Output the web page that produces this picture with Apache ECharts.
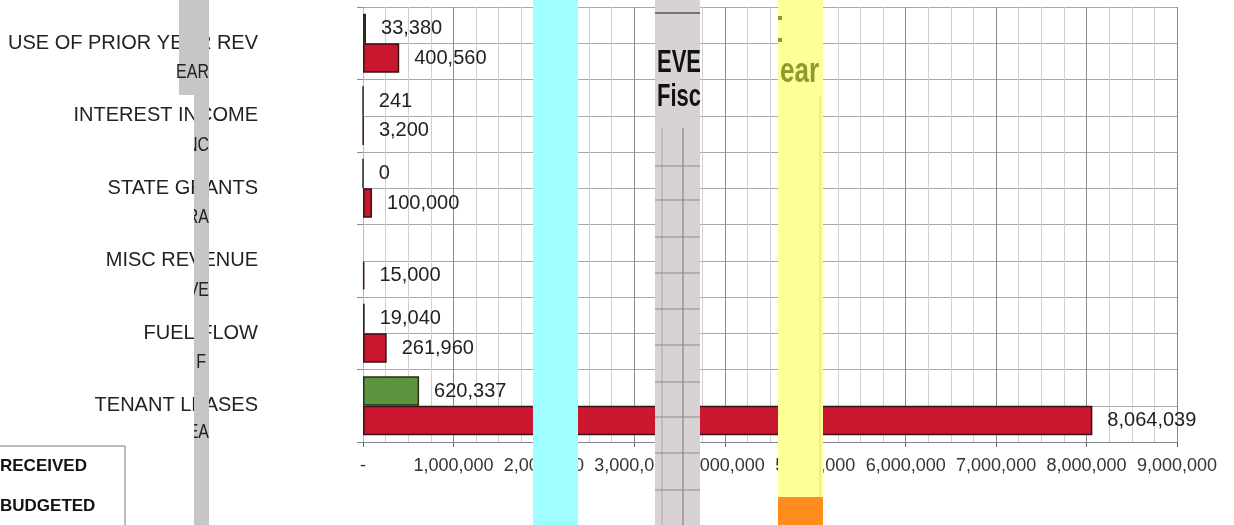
<!DOCTYPE html>
<html>
<head>
<meta charset="utf-8">
<script src="https://cdn.jsdelivr.net/npm/echarts@6/dist/echarts.min.js"></script>
<style>
html,body{margin:0;padding:0;background:#fff;}
#c{width:1234px;height:525px;}
</style>
</head>
<body>
<div id="c"></div>
<script>
// ---- data ----
const categories = ['USE OF PRIOR YEAR REV', 'INTEREST INCOME', 'STATE GRANTS', 'MISC REVENUE', 'FUEL FLOW', 'TENANT LEASES'];
const received = [33380, 241, 0, null, 19040, 620337];
const budgeted = [400560, 3200, 100000, 15000, 261960, 8064039];
const seriesNames = ['RECEIVED', 'BUDGETED'];
const xTicks = [0, 1000000, 2000000, 3000000, 4000000, 5000000, 6000000, 7000000, 8000000, 9000000];

const fmt = v => v === 0 ? '-' : Number(v).toLocaleString('en-US');
const FONT = 'Liberation Sans, Arial, sans-serif';

const chart = echarts.init(document.getElementById('c'), null, {renderer: 'canvas'});

const halfBands = [];
categories.forEach(c => { halfBands.push(c + 'a'); halfBands.push(c + 'b'); });

// decorative scan stripes
const G = [];
G.push({type:'rect', shape:{x:179,y:0,width:30,height:95}, style:{fill:'#c6c6c6'}, z:100});
G.push({type:'rect', shape:{x:194,y:95,width:15,height:430}, style:{fill:'#c6c6c6'}, z:100});
const frag = [['EAR',72,209],['NC',145,209],['RA',217,209],['VE',290,209],['F',362,206],['EA',432,209]];
frag.forEach(f => G.push({type:'text', x:f[2], y:f[1], scaleY:1.3, style:{text:f[0], fill:'#222', font:'16px ' + FONT, textAlign:'right', textVerticalAlign:'middle'}, z:101}));
[145,217,290,362,432].forEach(y => G.push({type:'rect', shape:{x:170,y:y-12,width:24,height:24}, style:{fill:'#fff'}, z:102}));

G.push({type:'rect', shape:{x:533,y:0,width:45,height:525}, style:{fill:'#9ffeff'}, z:100});

G.push({type:'rect', shape:{x:655,y:0,width:45,height:525}, style:{fill:'#d8d2d5'}, z:100});
G.push({type:'line', shape:{x1:655,y1:13,x2:700,y2:13}, style:{stroke:'#555', lineWidth:1.5}, z:101});
G.push({type:'text', x:701, y:64, scaleY:1.4, originY:0, style:{text:'EVE', fill:'#111', font:'bold 22px ' + FONT, textAlign:'right', textVerticalAlign:'middle'}, z:101});
G.push({type:'text', x:701, y:98, scaleY:1.4, style:{text:'Fisc', fill:'#111', font:'bold 22px ' + FONT, textAlign:'right', textVerticalAlign:'middle'}, z:101});
[662,683].forEach(x => G.push({type:'line', shape:{x1:x,y1:128,x2:x,y2:525}, style:{stroke:x===683?'#777':'#a9a3a6', lineWidth:1}, z:101}));
[166,200,237,273,309,345,382,417,453,490].forEach(y => G.push({type:'line', shape:{x1:655,y1:y,x2:700,y2:y}, style:{stroke:'#8e898c', lineWidth:1}, z:101}));

G.push({type:'rect', shape:{x:778,y:0,width:45,height:497}, style:{fill:'#ffff99'}, z:100});
G.push({type:'rect', shape:{x:778,y:497,width:45,height:28}, style:{fill:'#ff8c1e'}, z:100});
G.push({type:'line', shape:{x1:820,y1:97,x2:820,y2:497}, style:{stroke:'#dede7a', lineWidth:1}, z:101});
G.push({type:'rect', shape:{x:778,y:16,width:4,height:4}, style:{fill:'#8f9a2a'}, z:101});
G.push({type:'rect', shape:{x:778,y:38,width:4,height:4}, style:{fill:'#8f9a2a'}, z:101});
G.push({type:'text', x:819, y:72, scaleY:1.35, style:{text:'ear', fill:'#8f9a2a', font:'bold 26px ' + FONT, textAlign:'right', textVerticalAlign:'middle'}, z:101});

// legend box border
G.push({type:'rect', shape:{x:-2,y:446,width:127,height:90}, style:{fill:'none', stroke:'#7a7a7a', lineWidth:1}, z:5});

const legendBase = {
  orient: 'horizontal', left: -31, padding: 0, itemWidth: 25, itemHeight: 17, itemGap: 10, icon: 'rect',
  textStyle: {fontFamily: FONT, fontWeight: 'bold', fontSize: 17, color: '#111'}
};

const option = {
  animation: false,
  backgroundColor: '#fff',
  textStyle: {fontFamily: FONT},
  grid: {left: 363, right: 57, top: 7, bottom: 83, containLabel: false},
  legend: [
    Object.assign({}, legendBase, {top: 457, data: [seriesNames[0]]}),
    Object.assign({}, legendBase, {top: 497, data: [seriesNames[1]]})
  ],
  xAxis: {
    type: 'value', min: 0, max: 9000000, interval: 1000000,
    axisLine: {show: true, lineStyle: {color: '#888', width: 1}},
    axisTick: {show: true, length: 5, lineStyle: {color: '#666'}},
    axisLabel: {formatter: v => fmt(v), fontSize: 18, color: '#333', margin: 15, fontFamily: FONT},
    splitLine: {show: true, lineStyle: {color: '#8a8a8a', width: 1}},
    minorTick: {show: false, splitNumber: 4},
    minorSplitLine: {show: true, lineStyle: {color: '#cfcfcf', width: 1}}
  },
  yAxis: [{
    type: 'category', data: categories, inverse: true,
    axisLine: {show: true, lineStyle: {color: '#bbb'}},
    axisTick: {show: true, length: 6, lineStyle: {color: '#888'}},
    axisLabel: {fontSize: 20, color: '#222', margin: 105, fontFamily: FONT},
    splitLine: {show: false}
  }, {
    type: 'category', data: halfBands, inverse: true, position: 'left',
    axisLine: {show: false}, axisTick: {show: false}, axisLabel: {show: false},
    splitLine: {show: true, interval: 0, lineStyle: {color: '#a8a8a8', width: 1}}
  }],
  series: [{
    name: seriesNames[0], type: 'bar', yAxisIndex: 0, data: received,
    barGap: '0%', barCategoryGap: '18.6%',
    itemStyle: {color: '#5b953d', borderColor: '#2a2a1e', borderWidth: 1.5},
    label: {show: true, position: 'right', distance: 15, fontSize: 20, color: '#222', fontFamily: FONT, formatter: p => Number(p.value).toLocaleString('en-US')}
  }, {
    name: seriesNames[1], type: 'bar', yAxisIndex: 0, data: budgeted,
    barGap: '0%', barCategoryGap: '18.6%',
    itemStyle: {color: '#c8172f', borderColor: '#3a1216', borderWidth: 1.5},
    label: {show: true, position: 'right', distance: 15, fontSize: 20, color: '#222', fontFamily: FONT, formatter: p => Number(p.value).toLocaleString('en-US')}
  }],
  graphic: G
};
chart.setOption(option);
</script>
</body>
</html>
